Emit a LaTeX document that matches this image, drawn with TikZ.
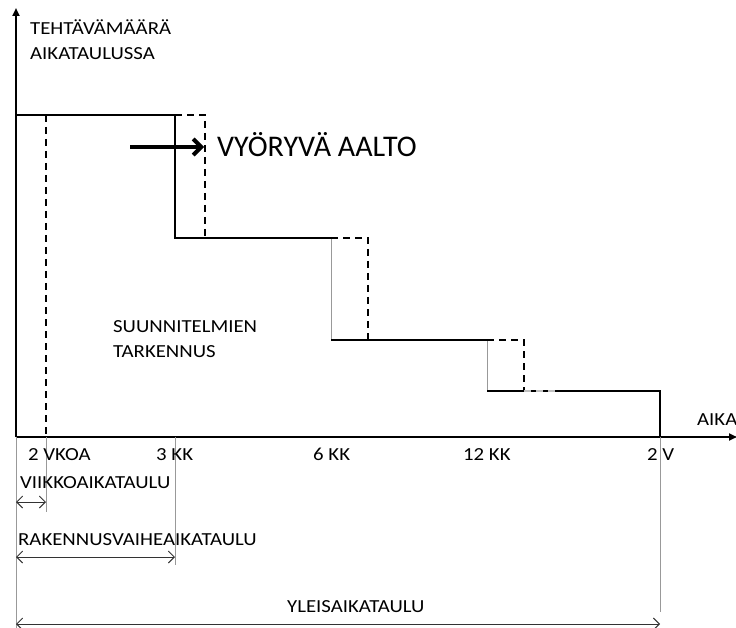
\documentclass[tikz,border=0pt]{standalone}
\usepackage{fontspec}
\setmainfont{Carlito}
\newfontfamily\widelbl[FakeStretch=1.13]{Carlito}
\usetikzlibrary{arrows.meta}
\begin{document}
\begin{tikzpicture}[x=1pt,y=-1pt,
  axisline/.style={line width=2pt,-{Triangle[length=8pt,width=7pt]}},
  stepline/.style={line width=2pt},
  shiftline/.style={line width=1.8pt,dash pattern=on 7pt off 5pt},
  guide/.style={line width=0.8pt,draw=black!40},
  span/.style={line width=0.9pt,draw=black!80,{Straight Barb[length=6pt,width=12pt]}-{Straight Barb[length=6pt,width=12pt]}},
  lbl/.style={anchor=base west,inner sep=0pt,font=\widelbl\fontsize{18.4}{22}\selectfont},
  biglbl/.style={anchor=base west,inner sep=0pt,font=\fontsize{30}{36}\selectfont}]
\useasboundingbox (0,0) rectangle (736,628);

% axes
\coordinate (O) at (16,437);
\coordinate (ytip) at (16,8);
\coordinate (xtip) at (737,437);
\draw[axisline] (O) -- (ytip);
\draw[axisline] (O) -- (xtip);

% planned workload steps
\coordinate (s0) at (16,115);
\coordinate (s1) at (175,115);
\coordinate (s2) at (175,238);
\coordinate (s3) at (331,238);
\coordinate (s4) at (331,340);
\coordinate (s5) at (487,340);
\coordinate (s6) at (487,391);
\coordinate (s7) at (660,391);
\coordinate (s8) at (660,437);
\draw[stepline] (s0) -- (s1) -- (s2) -- (s3);
\draw[guide] (s3) -- (s4);
\draw[stepline] (s4) -- (s5);
\draw[guide] (s5) -- (s6);
\draw[stepline] (s6) -- (s7) -- (s8);

% shifted (rolling) steps
\coordinate (d1) at (205,115);
\coordinate (d2) at (205,238);
\coordinate (d3) at (368,238);
\coordinate (d4) at (368,340);
\coordinate (d5) at (524,340);
\coordinate (d6) at (524,391);
\coordinate (d7) at (556,391);
\draw[shiftline] (s1) -- (d1) -- (d2);
\draw[shiftline] (s3) -- (d3) -- (d4);
\draw[shiftline] (s5) -- (d5) -- (d6);
\draw[line width=1.5pt,draw=black!25,dash pattern=on 7pt off 5pt] (d6) -- (d7);
\coordinate (w0) at (46,115);
\coordinate (w1) at (46,437);
\draw[shiftline] (w0) -- (w1);

% guide lines down to the span arrows
\coordinate (g0) at (16,628);
\coordinate (g1) at (46,512);
\coordinate (g2) at (175,565);
\coordinate (g3) at (660,612);
\coordinate (g2t) at (175,437);
\draw[guide] (O) -- (g0);
\draw[guide] (w1) -- (g1);
\draw[guide] (s8) -- (g3);
\draw[guide] (g2t) -- (g2);

% span arrows
\coordinate (a1l) at (16,502);
\coordinate (a1r) at (46,502);
\coordinate (a2l) at (16,557);
\coordinate (a2r) at (175,557);
\coordinate (a3l) at (16,624);
\coordinate (a3r) at (660,624);
\draw[span] (a1l) -- (a1r);
\draw[span] (a2l) -- (a2r);
\draw[span] (a3l) -- (a3r);

% rolling wave arrow
\coordinate (wa) at (130,147);
\coordinate (wb) at (204,147);
\draw[line width=4pt,-{Straight Barb[length=8pt,width=16pt,line width=4pt]}] (wa) -- (wb);

% texts
\node[lbl] (ylab1) at (30,35) {TEHTÄVÄMÄÄRÄ};
\node[lbl] (ylab2) at (30,60) {AIKATAULUSSA};
\node[lbl] (xlab) at (697,425) {AIKA};
\node[biglbl] (wave) at (217,157) {VYÖRYVÄ AALTO};
\node[lbl] (ref1) at (113,332) {SUUNNITELMIEN};
\node[lbl] (ref2) at (113,357) {TARKENNUS};
\node[lbl] (t1) at (28,460) {2 VKOA};
\node[lbl] (t2) at (156,460) {3 KK};
\node[lbl] (t3) at (313,460) {6 KK};
\node[lbl] (t4) at (463,460) {12 KK};
\node[lbl] (t5) at (647,460) {2 V};
\node[lbl] (p1) at (20,488) {VIIKKOAIKATAULU};
\node[lbl] (p2) at (18,545) {RAKENNUSVAIHEAIKATAULU};
\node[lbl] (p3) at (287,612) {YLEISAIKATAULU};
\end{tikzpicture}
\end{document}
